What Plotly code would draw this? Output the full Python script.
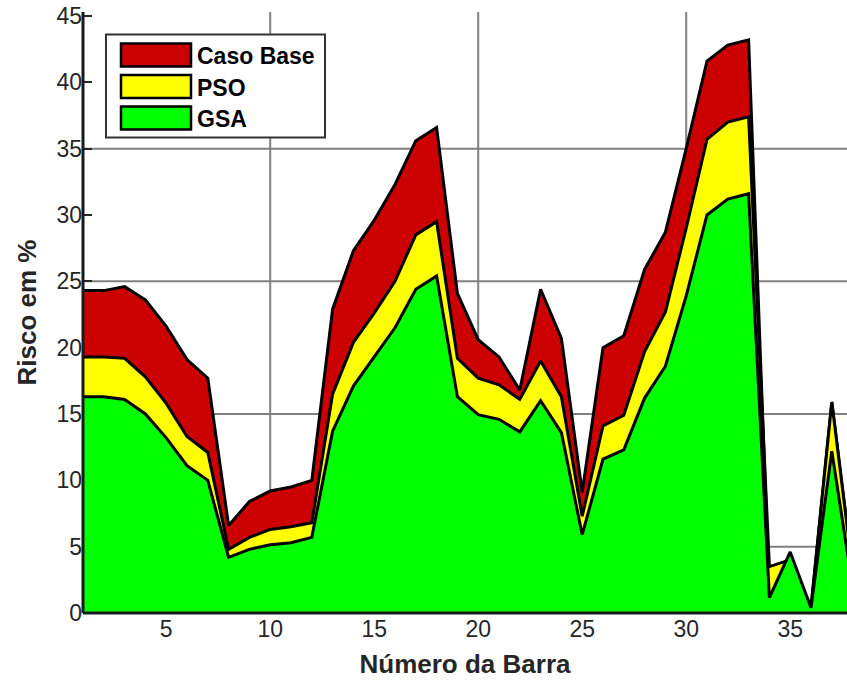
import plotly.graph_objects as go

# ---------------- data ----------------
barras = list(range(1, 39))
caso_base = [24.3, 24.3, 24.6, 23.6, 21.6, 19.1, 17.7, 6.6, 8.4, 9.2,
             9.5, 10.0, 22.9, 27.3, 29.6, 32.3, 35.6, 36.6, 24.1, 20.6,
             19.3, 16.8, 24.4, 20.7, 9.1, 20.0, 20.9, 25.9, 28.7, 35.0,
             41.6, 42.8, 43.2, 1.2, 4.0, 0.4, 15.9, 3.2]
pso = [19.3, 19.3, 19.2, 17.8, 15.8, 13.3, 12.1, 4.8, 5.7, 6.3,
       6.5, 6.8, 16.5, 20.4, 22.6, 25.0, 28.5, 29.5, 19.2, 17.7,
       17.2, 16.1, 19.0, 16.3, 7.3, 14.1, 14.9, 19.7, 22.7, 29.0,
       35.7, 37.0, 37.4, 3.5, 4.0, 0.4, 15.9, 3.2]
gsa = [16.3, 16.3, 16.1, 15.0, 13.2, 11.1, 10.0, 4.2, 4.8, 5.15,
       5.3, 5.7, 13.7, 17.1, 19.3, 21.5, 24.4, 25.4, 16.3, 14.95,
       14.6, 13.65, 16.0, 13.6, 5.9, 11.6, 12.3, 16.2, 18.6, 23.9,
       30.0, 31.2, 31.6, 1.15, 4.6, 0.4, 12.2, 2.0]

series_names = ["Caso Base", "PSO", "GSA"]
series_colors = ["#CC0000", "#FFFF00", "#00FF00"]
y_ticks = [0, 5, 10, 15, 20, 25, 30, 35, 40, 45]
x_ticks = [5, 10, 15, 20, 25, 30, 35]
y_grid = [5, 15, 25, 35]
x_grid = [10, 20, 30]

# ---------------- layout geometry ----------------
W, H = 847, 693
L, R, T, B = 83, 0, 12, 80
PW, PH = W - L - R, H - T - B


def px(x):
    return (x - L) / PW


def py(y):
    return (H - B - y) / PH


fig = go.Figure()
for name, vals, col in zip(series_names, [caso_base, pso, gsa], series_colors):
    fig.add_trace(go.Scatter(
        x=barras, y=vals, name=name, mode="lines", fill="tozeroy",
        fillcolor=col, line=dict(color="black", width=3),
        showlegend=False, hoverinfo="x+y"))

shapes = []
# grid lines (below traces)
for g in y_grid:
    shapes.append(dict(type="line", xref="paper", yref="y", x0=0, x1=1, y0=g, y1=g,
                       line=dict(color="#808080", width=2), layer="below"))
for g in x_grid:
    shapes.append(dict(type="line", xref="x", yref="paper", x0=g, x1=g, y0=0, y1=1,
                       line=dict(color="#808080", width=2), layer="below"))
# axis lines on top
shapes.append(dict(type="line", xref="paper", yref="paper", x0=0, x1=0, y0=0, y1=1,
                   line=dict(color="#1a1a1a", width=3), layer="above"))
shapes.append(dict(type="line", xref="paper", yref="paper", x0=0, x1=1, y0=0, y1=0,
                   line=dict(color="#1a1a1a", width=3), layer="above"))

# custom legend
shapes.append(dict(type="rect", xref="paper", yref="paper",
                   x0=px(106), x1=px(325), y0=py(137.5), y1=py(34.5),
                   fillcolor="white", line=dict(color="#333333", width=2), layer="above"))
rows = [(43.5, 66.5), (75, 98), (106.5, 129.5)]
annotations = []
for (r0, r1), name, col in zip(rows, series_names, series_colors):
    shapes.append(dict(type="rect", xref="paper", yref="paper",
                       x0=px(121), x1=px(191), y0=py(r1), y1=py(r0),
                       fillcolor=col, line=dict(color="black", width=2.5), layer="above"))
    annotations.append(dict(xref="paper", yref="paper", x=px(195), y=py((r0 + r1) / 2 + 1),
                            text=f"<b>{name}</b>", showarrow=False, xanchor="left",
                            yanchor="middle",
                            font=dict(family="Arial, Liberation Sans", size=23, color="black")))

axis_font = "Arial, Liberation Sans"
fig.update_layout(
    width=W, height=H,
    margin=dict(l=L, r=R, t=T, b=B, autoexpand=False),
    paper_bgcolor="white", plot_bgcolor="white",
    shapes=shapes, annotations=annotations,
    showlegend=False,
    xaxis=dict(range=[1, 1 + (W - L) / 20.8], tickvals=x_ticks, showgrid=False, zeroline=False,
               showline=False, ticks="inside", ticklen=8, tickcolor="#262626",
               layer="below traces", automargin=False,
               tickfont=dict(family=axis_font, size=23, color="#262626"),
               title=dict(text="<b>Número da Barra</b>", standoff=13,
                          font=dict(family=axis_font, size=26, color="#262626"))),
    yaxis=dict(range=[0, 45.3], tickvals=y_ticks, showgrid=False, zeroline=False,
               showline=False, ticks="inside", ticklen=9, tickwidth=2, tickcolor="#262626",
               layer="below traces", automargin=False,
               tickfont=dict(family=axis_font, size=23, color="#262626"),
               title=dict(text="<b>Risco em %</b>", standoff=12,
                          font=dict(family=axis_font, size=26, color="#262626"))),
)

fig.write_html("out.html", config={"displayModeBar": False},
               post_script="document.body.style.margin='0';document.body.style.overflow='hidden';")
